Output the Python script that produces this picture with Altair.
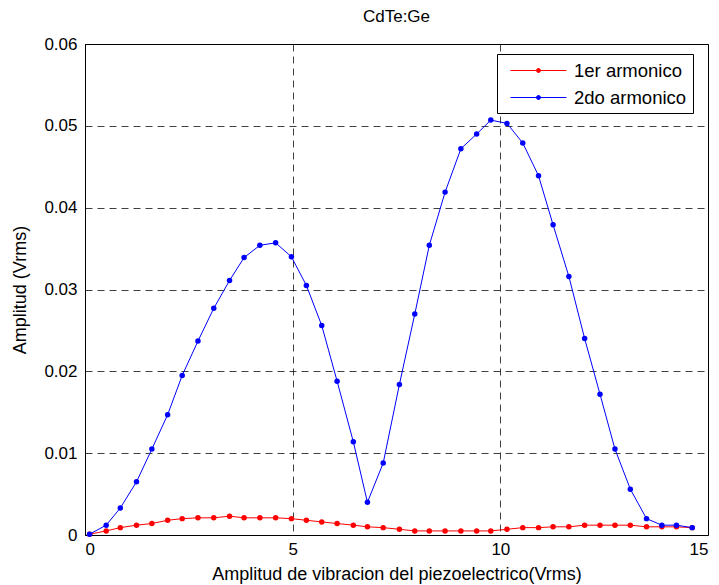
import altair as alt
import pandas as pd

# Piezo drive amplitude (Vrms) and measured harmonic amplitudes (Vrms)
drive = [0.11, 0.51, 0.85, 1.24, 1.61, 1.99, 2.34, 2.72, 3.10, 3.48,
         3.83, 4.21, 4.59, 4.97, 5.33, 5.70, 6.07, 6.46, 6.80, 7.18,
         7.57, 7.94, 8.29, 8.67, 9.05, 9.43, 9.77, 10.16, 10.54, 10.92,
         11.27, 11.65, 12.03, 12.40, 12.76, 13.13, 13.52, 13.89, 14.24, 14.62]

first_harmonic = [0.0001, 0.0005, 0.0009, 0.0012, 0.0014, 0.0018, 0.0020, 0.0021, 0.0021, 0.0023,
                  0.0021, 0.0021, 0.0021, 0.0020, 0.0018, 0.0016, 0.0014, 0.0012, 0.0010, 0.0009,
                  0.0007, 0.0005, 0.0005, 0.0005, 0.0005, 0.0005, 0.0005, 0.0007, 0.0009, 0.0009,
                  0.0010, 0.0010, 0.0012, 0.0012, 0.0012, 0.0012, 0.0010, 0.0010, 0.0010, 0.0009]

second_harmonic = [0.0001, 0.0012, 0.0033, 0.0065, 0.0105, 0.0147, 0.0195, 0.0237, 0.0277, 0.0311,
                   0.0339, 0.0354, 0.0357, 0.0340, 0.0305, 0.0256, 0.0188, 0.0114, 0.0040, 0.0088,
                   0.0184, 0.0270, 0.0354, 0.0419, 0.0472, 0.0490, 0.0507, 0.0503, 0.0479, 0.0439,
                   0.0379, 0.0316, 0.0240, 0.0172, 0.0105, 0.0056, 0.0020, 0.0012, 0.0012, 0.0009]

series_names = ["1er armonico", "2do armonico"]
series_colors = ["#ff0000", "#0000ff"]

x_ticks = [0, 5, 10, 15]
y_ticks = [0, 0.01, 0.02, 0.03, 0.04, 0.05, 0.06]

rows = []
for name, values in zip(series_names, [first_harmonic, second_harmonic]):
    for xv, yv in zip(drive, values):
        rows.append({"drive": xv, "amp": yv, "serie": name})
df = pd.DataFrame(rows)

FONT = "Liberation Sans"

# Legend glyph: a line segment with a filled dot in the middle
# (the dot is built from concentric rings so it reads as solid when stroked)
cx = 2.5
glyph = "M-0.3,0L5.3,0"
for r in [0.05, 0.1, 0.15, 0.2]:
    glyph += f"M{cx + r},0A{r},{r},0,1,1,{cx - r},0A{r},{r},0,1,1,{cx + r},0"

x_enc = alt.X(
    "drive:Q",
    scale=alt.Scale(domain=[0, 15], nice=False),
    axis=alt.Axis(values=x_ticks, title="Amplitud de vibracion del piezoelectrico(Vrms)",
                  format="d", titlePadding=8, labelPadding=6),
)
y_enc = alt.Y(
    "amp:Q",
    scale=alt.Scale(domain=[0, 0.06], nice=False),
    axis=alt.Axis(values=y_ticks, title="Amplitud (Vrms)",
                  labelExpr="datum.value == 0 ? '0' : format(datum.value, '.2f')",
                  titlePadding=14, labelPadding=8),
)
color_enc = alt.Color(
    "serie:N",
    scale=alt.Scale(domain=series_names, range=series_colors),
    legend=alt.Legend(
        title=None, orient="none", legendX=412, legendY=10,
        symbolType=glyph, symbolSize=400, symbolStrokeWidth=1,
        labelOffset=50, rowPadding=7, padding=6,
        labelFontSize=18.5, labelFont=FONT, labelColor="black",
        fillColor="white", strokeColor="black",
    ),
)

lines = alt.Chart(df).mark_line(strokeWidth=1).encode(
    x=x_enc, y=y_enc, color=color_enc, order="drive:Q"
)
points = alt.Chart(df).mark_point(filled=True, size=30, opacity=1).encode(
    x=x_enc, y=y_enc,
    color=alt.Color("serie:N", scale=alt.Scale(domain=series_names, range=series_colors), legend=None),
)

chart = (
    alt.layer(lines, points)
    .properties(
        width=623, height=491,
        title="CdTe:Ge",
        autosize=alt.AutoSizeParams(type="none"),
        padding={"left": 85, "top": 44, "right": 11, "bottom": 50},
        background="white",
    )
    .configure_title(fontSize=17, fontWeight="normal", font=FONT, color="black",
                     anchor="middle", baseline="bottom", offset=9)
    .configure_view(stroke="black", strokeWidth=1)
    .configure_legend(strokeWidth=1, cornerRadius=0)
    .configure_axis(
        domainColor="black", domainWidth=1,
        grid=True, gridColor="#000000", gridDash=[7, 5], gridWidth=1, gridOpacity=0.75,
        tickSize=0,
        labelFont=FONT, labelFontSize=17, labelColor="black",
        titleFont=FONT, titleFontSize=18, titleFontWeight="normal", titleColor="black",
    )
)

chart.save("out.html", embed_options={"renderer": "svg", "actions": False})
